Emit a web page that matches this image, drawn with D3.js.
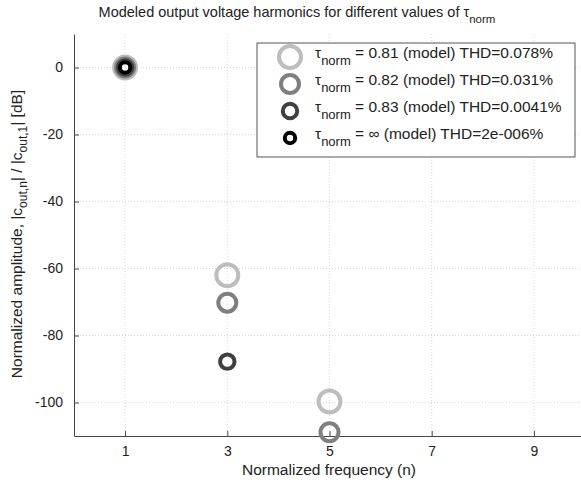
<!DOCTYPE html>
<html><head><meta charset="utf-8">
<script src="https://cdn.jsdelivr.net/npm/d3@7"></script>
<style>
body{margin:0;background:#fff;}
text{font-family:"Liberation Sans",Arial,sans-serif;}
</style></head>
<body><svg id="c" width="581" height="484"></svg>
<script>
const harmonics = [1, 3, 5];
const seriesNames = ["0.81", "0.82", "0.83", "∞"];
const thdLabels = ["0.078%", "0.031%", "0.0041%", "2e-006%"];
const tau081 = [0, -62, -99.7];
const tau082 = [0, -70.2, -108.9];
const tau083 = [0, -87.8, -125];
const tauInf = [0, -150, -200];
const xTicks = [1, 3, 5, 7, 9];
const yTicks = [0, -20, -40, -60, -80, -100];
const colors = ["#bdbdbd", "#7f7f7f", "#404040", "#000000"];
const radii = [11, 9, 7.2, 5.2];
const seriesVals = [tau081, tau082, tau083, tauInf];

const svg = d3.select("#c");
const L = 74, R = 585, T = 34, B = 436;
const x = d3.scaleLinear().domain([0, 10]).range([L, R]);
const y = d3.scaleLinear().domain([-110, 10]).range([B, T]);

// grid
const g = svg.append("g");
g.selectAll(".gx").data(xTicks).enter().append("line")
 .attr("x1", d => x(d)).attr("x2", d => x(d)).attr("y1", T).attr("y2", B)
 .attr("stroke", "#d8d8d8").attr("stroke-dasharray", "1,2").attr("stroke-width", 1);
g.selectAll(".gy").data(yTicks).enter().append("line")
 .attr("y1", d => y(d)).attr("y2", d => y(d)).attr("x1", L).attr("x2", R)
 .attr("stroke", "#d8d8d8").attr("stroke-dasharray", "1,2").attr("stroke-width", 1);

// axes
const xa = svg.append("g").attr("transform", `translate(0,${B})`)
 .call(d3.axisBottom(x).tickValues(xTicks).tickFormat(d => String(d)).tickSizeInner(-5).tickSizeOuter(0).tickPadding(10));
const ya = svg.append("g").attr("transform", `translate(${L},0)`)
 .call(d3.axisLeft(y).tickValues(yTicks).tickFormat(d => String(d)).tickSizeInner(-5).tickSizeOuter(0).tickPadding(11));
[xa, ya].forEach(a => {
  a.selectAll("path").attr("stroke", "#444");
  a.selectAll("line").attr("stroke", "#444");
  a.selectAll("text").attr("font-size", 14).attr("fill", "#222")
   .attr("font-family", "Liberation Sans, Arial, sans-serif");
});

// points
const pts = svg.append("g");
seriesVals.forEach((vals, i) => {
  pts.selectAll(".p" + i).data(harmonics.map((h, j) => ({h, v: vals[j]})).filter(d => d.v >= -112))
   .enter().append("circle")
   .attr("cx", d => x(d.h)).attr("cy", d => y(d.v)).attr("r", radii[i])
   .attr("fill", "none").attr("stroke", colors[i]).attr("stroke-width", 4);
});

// title
const title = svg.append("text").attr("x", 297).attr("y", 17).attr("text-anchor", "middle")
 .attr("font-size", 14.5).attr("fill", "#222");
title.append("tspan").text("Modeled output voltage harmonics for different values of τ");
title.append("tspan").attr("dy", 6).attr("font-size", 11.5).text("norm");

// x label
svg.append("text").attr("x", 329).attr("y", 475).attr("text-anchor", "middle")
 .attr("font-size", 15.5).attr("fill", "#222").text("Normalized frequency (n)");

// y label
const yl = svg.append("text").attr("transform", "translate(22,234) rotate(-90)")
 .attr("text-anchor", "middle").attr("font-size", 15.5).attr("fill", "#222");
yl.append("tspan").text("Normalized amplitude, |c");
yl.append("tspan").attr("dy", 5).attr("font-size", 12).text("out,n");
yl.append("tspan").attr("dy", -5).text("| / |c");
yl.append("tspan").attr("dy", 5).attr("font-size", 12).text("out,1");
yl.append("tspan").attr("dy", -5).text("| [dB]");

// legend
const lg = svg.append("g");
lg.append("rect").attr("x", 257).attr("y", 43).attr("width", 318).attr("height", 114)
 .attr("fill", "#fff").attr("stroke", "#555").attr("stroke-width", 1);
const rowY = [57, 84, 111, 138];
seriesNames.forEach((n, i) => {
  lg.append("circle").attr("cx", 290).attr("cy", rowY[i]).attr("r", radii[i])
   .attr("fill", "none").attr("stroke", colors[i]).attr("stroke-width", 4);
  const t = lg.append("text").attr("x", 315).attr("y", rowY[i] + 1).attr("font-size", 15.5).attr("fill", "#222");
  t.append("tspan").text("τ");
  t.append("tspan").attr("dy", 7).attr("font-size", 13).text("norm");
  t.append("tspan").attr("dy", -7).text(" = " + n + " (model) THD=" + thdLabels[i]);
});
</script></body></html>
